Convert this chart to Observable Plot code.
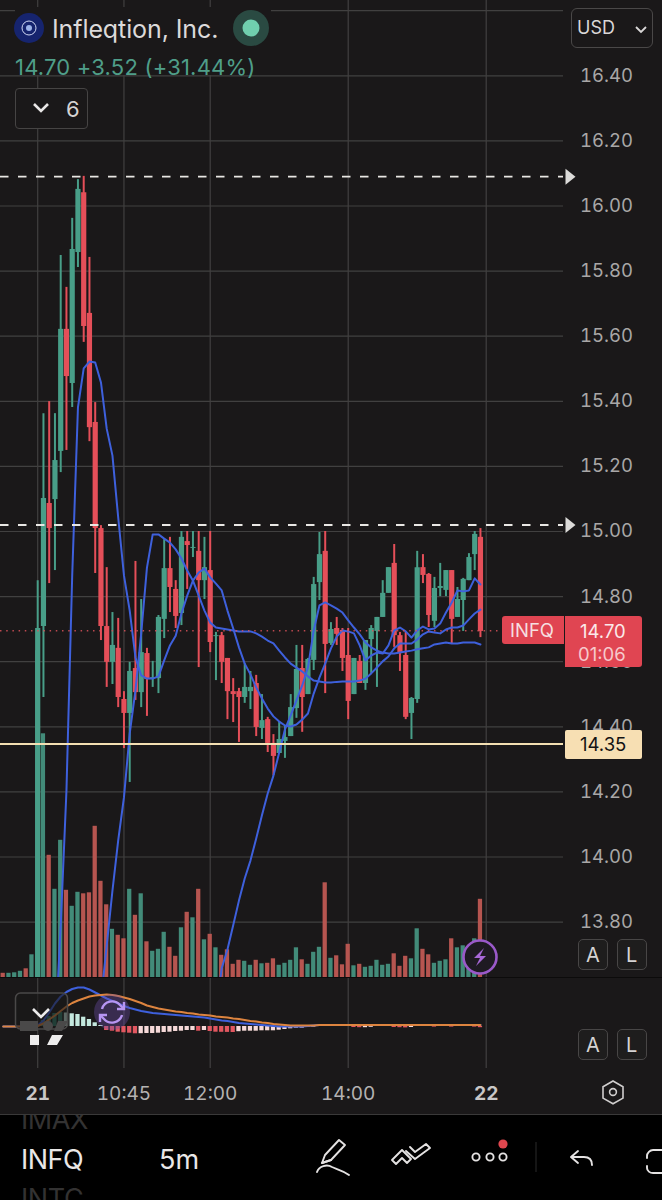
<!DOCTYPE html>
<html><head><meta charset="utf-8">
<script src="https://cdn.jsdelivr.net/npm/d3@7"></script>
<script src="https://cdn.jsdelivr.net/npm/@observablehq/plot@0.6"></script>
<style>
html,body{margin:0;padding:0;background:#000;overflow:hidden}
#app{position:relative;width:662px;height:1200px;background:#1a1819;overflow:hidden;font-family:Inter,"Liberation Sans",sans-serif}
#app svg.layer{position:absolute;left:0;top:0;background:transparent;overflow:hidden}
.t{position:absolute;white-space:nowrap;line-height:1}
.box{position:absolute;box-sizing:border-box}
</style></head><body><div id="app"></div>
<script>
// ---- data: 5-minute bars, index 0-83 (regular session starts at index 6) ----
const firstCandle = 6;
const opens = [13.40,14.708,15.086,15.098,15.246,15.621,15.455,15.857,16.041,15.670,15.335,15.009,14.708,14.598,14.641,14.484,14.441,14.579,14.505,14.625,14.548,14.548,14.730,14.886,14.822,14.748,14.969,14.948,14.939,14.849,14.880,14.677,14.680,14.610,14.508,14.508,14.490,14.508,14.533,14.395,14.422,14.349,14.318,14.355,14.370,14.456,14.579,14.499,14.604,14.843,14.939,14.656,14.702,14.696,14.619,14.499,14.601,14.533,14.668,14.693,14.736,14.810,14.902,14.680,14.619,14.441,14.484,14.889,14.868,14.724,14.825,14.819,14.880,14.736,14.788,14.849,14.929,14.982];
const highs = [14.849,15.362,15.399,15.362,15.848,15.750,15.962,16.081,16.091,15.842,15.396,15.018,14.889,14.751,14.733,14.508,14.598,14.908,14.791,14.641,14.601,14.742,14.975,14.982,14.849,15.000,15.000,15.000,15.000,14.982,15.000,14.690,14.690,14.610,14.548,14.518,14.594,14.570,14.558,14.499,14.429,14.376,14.416,14.404,14.499,14.650,14.650,14.610,14.859,14.997,15.000,14.720,14.736,14.702,14.702,14.610,14.619,14.665,14.711,14.736,14.849,14.889,14.960,14.690,14.690,14.490,14.939,14.929,14.871,14.859,14.902,14.880,14.880,14.828,14.856,14.932,15.000,15.009];
const lows = [13.40,14.490,14.840,14.880,15.181,15.249,15.381,15.811,15.581,15.276,14.871,14.665,14.521,14.530,14.459,14.333,14.229,14.481,14.459,14.432,14.521,14.502,14.671,14.751,14.702,14.711,14.822,14.920,14.582,14.791,14.628,14.542,14.533,14.422,14.413,14.352,14.472,14.453,14.370,14.361,14.321,14.250,14.318,14.303,14.370,14.426,14.383,14.499,14.573,14.788,14.502,14.650,14.650,14.570,14.422,14.499,14.533,14.512,14.564,14.521,14.736,14.810,14.644,14.570,14.422,14.361,14.472,14.840,14.705,14.705,14.800,14.800,14.653,14.736,14.693,14.849,14.880,14.674];
const closes = [14.702,15.101,15.009,15.218,15.621,15.476,15.866,16.051,15.630,15.319,15.009,14.708,14.598,14.650,14.490,14.441,14.570,14.505,14.628,14.545,14.551,14.736,14.886,14.828,14.739,14.982,14.957,14.951,14.849,14.889,14.659,14.680,14.598,14.508,14.499,14.490,14.521,14.521,14.398,14.419,14.349,14.309,14.361,14.367,14.459,14.576,14.490,14.607,14.837,14.929,14.653,14.699,14.684,14.610,14.478,14.610,14.533,14.665,14.702,14.736,14.810,14.889,14.680,14.625,14.429,14.487,14.889,14.865,14.742,14.825,14.831,14.880,14.730,14.791,14.853,14.920,14.991,14.693];
// volume in thousands of shares, bars 0-83
const volume = [9,9,10,13,18,46,654,488,245,177,275,175,143,171,168,170,303,193,146,97,85,78,177,125,168,72,53,57,91,61,43,100,131,120,177,76,87,60,45,56,27,35,33,25,35,28,29,38,25,29,35,60,36,27,51,61,190,39,44,26,67,24,27,21,23,35,25,27,48,23,43,38,98,57,46,29,33,36,78,60,64,48,78,157];
const preMarketUp = [false,true,true,true,false,true];
// three moving averages
const fastStart = 9;
const maFast = [13.436,13.790,14.204,14.865,15.381,15.501,15.522,15.519,15.458,15.316,15.233,15.043,14.865,14.757,14.613,14.558,14.548,14.548,14.555,14.604,14.650,14.680,14.748,14.803,14.849,14.874,14.886,14.859,14.840,14.819,14.757,14.702,14.644,14.594,14.561,14.521,14.487,14.456,14.432,14.416,14.404,14.401,14.407,14.422,14.441,14.502,14.551,14.594,14.641,14.677,14.696,14.693,14.687,14.650,14.604,14.619,14.628,14.625,14.650,14.696,14.705,14.693,14.674,14.696,14.708,14.699,14.702,14.717,14.751,14.782,14.819,14.816,14.819,14.856,14.837];
const midStart = 17;
const maMid = [13.559,13.728,13.897,14.051,14.183,14.379,14.512,14.687,14.889,14.991,14.991,14.978,14.966,14.945,14.917,14.880,14.849,14.803,14.757,14.720,14.705,14.702,14.699,14.696,14.693,14.693,14.693,14.687,14.677,14.665,14.656,14.634,14.613,14.594,14.582,14.570,14.555,14.542,14.539,14.536,14.536,14.538,14.539,14.539,14.539,14.542,14.548,14.564,14.582,14.601,14.616,14.641,14.656,14.656,14.656,14.668,14.684,14.693,14.690,14.687,14.699,14.705,14.705,14.711,14.730,14.748,14.760];
const slowStart = 37;
const maSlow = [13.529,13.658,13.716,13.790,13.866,13.934,13.989,14.057,14.128,14.195,14.250,14.321,14.392,14.435,14.481,14.527,14.582,14.696,14.773,14.782,14.773,14.763,14.751,14.727,14.705,14.684,14.659,14.644,14.634,14.628,14.625,14.625,14.628,14.631,14.634,14.638,14.641,14.644,14.653,14.656,14.659,14.656,14.656,14.659,14.659,14.659,14.653];
// MACD pane, bars 0-83
const macd = [0,0,0,0,0,0,.01,.06,.14,.23,.30,.345,.375,.39,.39,.37,.34,.31,.28,.255,.23,.205,.185,.17,.155,.145,.135,.13,.125,.12,.115,.11,.105,.10,.095,.09,.08,.07,.06,.055,.045,.035,.03,.025,.02,.015,.01,.005,0,0,0,0,0,.005,.01,.015,.015,.015,.015,.015,.015,.015,.015,.015,.015,.015,.015,.015,.015,.015,.015,.015,.015,.015,.015,.015,.015,.015,.015,.015,.015,.015,.015,.015];
const signal = [0,0,0,0,0,0,.005,.03,.07,.11,.155,.20,.235,.26,.28,.30,.31,.315,.32,.315,.305,.29,.275,.255,.235,.21,.195,.18,.17,.16,.15,.145,.135,.13,.12,.115,.11,.10,.095,.09,.08,.075,.065,.055,.05,.04,.035,.025,.02,.015,.01,.01,.01,.01,.01,.015,.015,.015,.015,.015,.015,.015,.015,.015,.015,.015,.015,.015,.015,.015,.015,.015,.015,.015,.015,.015,.015,.015,.015,.015,.015,.015,.015,.015];
const histStart = 6;
const hist = [.02,.06,.10,.13,.14,.135,.127,.12,.093,.07,.037,.01,-.04,-.047,-.057,-.063,-.067,-.073,-.072,-.07,-.07,-.067,-.06,-.057,-.05,-.047,-.04,-.04,-.047,-.04,-.05,-.057,-.058,-.059,-.06,-.052,-.047,-.047,-.047,-.043,-.043,-.043,-.037,-.03,-.023,-.017,-.017,-.01,-.007,.01,.01,.01,.012,.01,.006,-.01,-.012,-.012,-.008,.006,.004,.004,-.01,-.012,-.014,-.01,.006,.006,.006,-.006,.008,.008,-.006,.004,.004,.004,-.006,-.012];
// axes and levels
const gridPrices = [13.8,14,14.2,14.4,14.6,14.8,15,15.2,15.4,15.6,15.8,16,16.2,16.4,16.6];
const priceLabels = [13.8,14,14.2,14.4,14.6,14.8,15,15.2,15.4,15.6,15.8,16,16.2,16.4];
const timeTicks = [6,21,36,60,84];
const timeLabels = ["21","10:45","12:00","14:00","22"];
const dayTicks = [6,84];
const sessionTicks = [21,36,60];
const dashedLevels = [16.09,15.02];
const alertLevel = 14.347;
const lastPrice = 14.695;

// ---- shared layout ----
const W = 662, H = 1115;
const xScale = {type:"linear", domain:[-0.47,114.66], range:[0,W]};
const base = {width:W, height:H, marginTop:0, marginLeft:0, marginRight:99, marginBottom:47, x:xScale, className:"pl"};
const priceY = {type:"linear", domain:[16.6313,13.6298], range:[0,977]};
const TEAL="#489e88", RED="#e54f59", BLUE="#3e60dc", GRID="#414040";
const rows = opens.map((o,k)=>({i:k+firstCandle,o,h:highs[k],l:lows[k],c:closes[k]}));
const up = i => i<firstCandle ? preMarketUp[i] : closes[i-firstCandle]>=opens[i-firstCandle];
const series = (arr,start)=>arr.map((v,k)=>({i:k+start,v}));
const timeFmt = d => timeLabels[timeTicks.indexOf(d)];
const app = document.getElementById("app");
function add(p){p.classList.add("layer");app.appendChild(p);return p}
const flag = {draw(c){c.moveTo(-5,-8);c.lineTo(5,0);c.lineTo(-5,8);c.closePath()}};

// grid and axes
add(Plot.plot({...base, y:{...priceY, axis:null}, marks:[
  Plot.gridY(gridPrices,{stroke:GRID,strokeOpacity:1,strokeWidth:1.2}),
  Plot.gridX(timeTicks,{stroke:GRID,strokeOpacity:1,strokeWidth:1.2}),
  Plot.axisY(priceLabels,{anchor:"right",tickSize:0,tickPadding:16.5,tickFormat:d3.format(".2f"),fontSize:18.5,fill:"#a9a7a7",fontFamily:"Inter"}),
  Plot.axisX(sessionTicks,{anchor:"bottom",tickSize:0,tickPadding:18,tickFormat:timeFmt,fontSize:19,fill:"#b4b2b2",fontFamily:"Inter",label:null}),
  Plot.axisX(dayTicks,{anchor:"bottom",tickSize:0,tickPadding:18,tickFormat:timeFmt,fontSize:19,fontWeight:700,fill:"#c9c7c7",fontFamily:"Inter",label:null})
]}));

// volume
add(Plot.plot({...base, y:{type:"linear",domain:[0,1000],range:[977.3,477.3],axis:null}, x:{...xScale,axis:null}, marks:[
  Plot.rectY(volume.map((v,i)=>({i,v})),{x1:d=>d.i-0.37,x2:d=>d.i+0.37,y1:0,y2:"v",fill:d=>up(d.i)?"#428b79":"#b65550"})
]}));

// candles, averages and levels
add(Plot.plot({...base, height:977, marginBottom:0, y:{...priceY,axis:null}, x:{...xScale,axis:null}, marks:[
  Plot.ruleX(rows,{x:"i",y1:"l",y2:"h",stroke:d=>d.c>=d.o?TEAL:RED,strokeWidth:2,clip:true}),
  Plot.ruleX(rows,{x:"i",y1:"o",y2:"c",stroke:d=>d.c>=d.o?TEAL:RED,strokeWidth:5.2,clip:true}),
  Plot.line(series(maSlow,slowStart),{x:"i",y:"v",stroke:BLUE,strokeWidth:2,clip:true}),
  Plot.line(series(maMid,midStart),{x:"i",y:"v",stroke:BLUE,strokeWidth:2,clip:true}),
  Plot.line(series(maFast,fastStart),{x:"i",y:"v",stroke:BLUE,strokeWidth:2,clip:true}),
  Plot.ruleY([lastPrice],{stroke:"#d9525b",strokeOpacity:.85,strokeWidth:1.5,strokeDasharray:"1.5,4.7"}),
  Plot.ruleY([alertLevel],{stroke:"#f3dfb2",strokeWidth:2}),
  Plot.ruleY(dashedLevels,{stroke:"#e9e7e4",strokeWidth:1.8,strokeDasharray:"8.5,9.5"}),
  Plot.dot(dashedLevels,{y:d=>d,frameAnchor:"right",dx:7,symbol:flag,r:6,fill:"#dcdbd9",stroke:"none"})
]}));

// MACD pane
const macdY = {type:"linear",domain:[-.5,.5],range:[1076,976],axis:null};
add(Plot.plot({...base, y:macdY, x:{...xScale,axis:null}, marks:[
  Plot.rectY(series(hist,histStart),{x1:d=>d.i-0.37,x2:d=>d.i+0.37,y1:0,y2:"v",
    fill:d=>{const prev=hist[d.i-histStart-1]??0;return d.v>=0?(d.v>=prev?"#2f7d6b":"#c4e8de"):(d.v<prev?"#e25760":"#f6d9d8")}}),
  Plot.line(series(macd,0),{x:"i",y:"v",stroke:BLUE,strokeWidth:2}),
  Plot.line(series(signal,0),{x:"i",y:"v",stroke:"#dd843f",strokeWidth:2})
]}));

// ---- app chrome (HTML) ----
function text(s,x,y,size,color,extra="",parent=app){ // y is vertical centre
  const d=document.createElement("div");d.className="t";d.textContent=s;
  d.style.cssText=`left:${x}px;top:${y}px;transform:translateY(-50%);font-size:${size}px;color:${color};${extra}`;parent.appendChild(d);return d}
function box(x,y,w,h,css){const d=document.createElement("div");d.className="box";
  d.style.cssText=`left:${x}px;top:${y}px;width:${w}px;height:${h}px;${css}`;app.appendChild(d);return d}
const BG="#1a1819";
box(0,976.5,662,1.5,"background:#0c0b0b");
box(15,7,256,68,`background:${BG}`);
const bar = box(0,1114,662,86,"background:#000;border-top:1px solid #3a3939;overflow:hidden");
// header
text("Infleqtion, Inc.",52,29,25,"#dcdada","letter-spacing:-.1px");
text("14.70 +3.52 (+31.44%)",15,67,22,"#4f9e89","letter-spacing:.2px");
box(15,88,73,41,`background:${BG};border:1.5px solid #464444;border-radius:4px`);
text("6",66,109,22,"#d5d3d3");
box(571,8,82,40,`background:${BG};border:1.5px solid #4a4848;border-radius:6px`);
text("USD",577,28,18,"#d9d7d7");
// price labels
box(502,616,62,28,"background:#e04552;border-radius:3px 0 0 3px");
text("INFQ",510,630,18.5,"#f6dfe0");
box(564.5,616,77.5,51,"background:#e04552;border-radius:0 3px 3px 0");
text("14.70",580,631,18.5,"#fbe9ea");
text("01:06",578,654,18.5,"#f6c9cc");
box(564.5,729.5,77.5,29,"background:#f7dfb3;border-radius:2px");
text("14.35",580,744,18.5,"#141313");
// A / L buttons
for(const y of [939,1029]){
  box(578,y,30,31,`background:#1e1d1d;border:1.5px solid #484646;border-radius:5px`);
  box(617,y,30,31,`background:#1e1d1d;border:1.5px solid #484646;border-radius:5px`);
  text("A",586,y+15.5,20,"#d5d3d3");
  text("L",626,y+15.5,20,"#d5d3d3");
}
// toolbar text (positions relative to the toolbar)
text("IMAX",21,4,27,"#333232","letter-spacing:-.4px",bar);
text("INFQ",21,44,27,"#e9e7e7","letter-spacing:-.5px",bar);
text("5m",159,44,27,"#e9e7e7","",bar);
text("INTC",21,83,27,"#333232","letter-spacing:-.4px",bar);
// icons
const ns="http://www.w3.org/2000/svg";
const ic=document.createElementNS(ns,"svg");
ic.setAttribute("width",662);ic.setAttribute("height",1200);
ic.style.cssText="position:absolute;left:0;top:0;pointer-events:none";
ic.innerHTML=`
<circle cx="29" cy="28" r="15" fill="#16246e"/><circle cx="29" cy="28" r="7" fill="none" stroke="#cfd6f2" stroke-width="1"/><circle cx="29" cy="28" r="3" fill="#9db3e8"/>
<circle cx="251" cy="28" r="18" fill="#2a4a42"/><circle cx="251" cy="28" r="8.5" fill="#70cfae"/>
<path d="M34 104l7 7 7-7" fill="none" stroke="#e9e7e7" stroke-width="2.6"/>
<path d="M636 27l5 5 5-5" fill="none" stroke="#d9d7d7" stroke-width="1.8"/>
<rect x="15.5" y="993" width="52" height="36" rx="5" fill="#1a1819" fill-opacity=".62" stroke="#4a4848" stroke-width="1.5"/>
<path d="M33 1009l8 8 8-8" fill="none" stroke="#ecebeb" stroke-width="2.6"/>
<path d="M20 1021h18v10h-18z" fill="#4a4949"/><circle cx="48" cy="1026" r="5" fill="#4a4949"/><path d="M58 1021h10l-6 10h-8z" fill="#4a4949"/>
<path d="M30 1035h9v10h-9zM52 1035h11l-6 10h-10z" fill="#eeeded"/>
<circle cx="112" cy="1012" r="18" fill="#6b4ea8" fill-opacity=".38"/>
<path d="M102 1009a10.5 10.5 0 0 1 18-4l3 3M122 1015a10.5 10.5 0 0 1-18 4l-3-3" fill="none" stroke="#b795f2" stroke-width="2.4"/>
<path d="M124 1002v7h-7M100 1022v-7h7" fill="none" stroke="#b795f2" stroke-width="2.4"/>
<circle cx="480" cy="957" r="16.5" fill="#1e1a22" stroke="#9a59c9" stroke-width="2.6"/>
<path d="M484 948l-10 10h6l-4 8 10-10h-6z" fill="#a868d8"/>
<path d="M613 1081l10 5.7v11.4l-10 5.7-10-5.7v-11.4z" fill="none" stroke="#d0cece" stroke-width="1.6"/><circle cx="613" cy="1092" r="3.4" fill="none" stroke="#d0cece" stroke-width="1.6"/>
<g fill="none" stroke="#e4e2e2" stroke-width="1.9" stroke-linecap="round" stroke-linejoin="round">
<path d="M322 1163l3-8 14-15 6 5-14 15z"/><path d="M322 1163l9-3"/><path d="M317 1172c2-6 10-8 15-5 4 2 10 3 17 8"/>
<path d="M392 1160l10-10 9 9-4 4-5-5-6 6zM410 1147l5 5 11-8 4 4-15 11-9-8"/>
<circle cx="476" cy="1157" r="3.6"/><circle cx="490" cy="1157" r="3.6"/><circle cx="503" cy="1157" r="3.6"/>
<path d="M571 1157l7-6M571 1157l7 6M572 1157h12c5 0 8 3 8 8"/>
<path d="M662 1150h-9c-3 0-6 3-6 6v2M647 1166v2c0 3 3 5 6 5h9"/>
</g>
<circle cx="503" cy="1144" r="4.6" fill="#e0474f"/>
<path d="M536 1142v30" stroke="#2b2a2a" stroke-width="1"/>`;
app.appendChild(ic);
</script></body></html>
